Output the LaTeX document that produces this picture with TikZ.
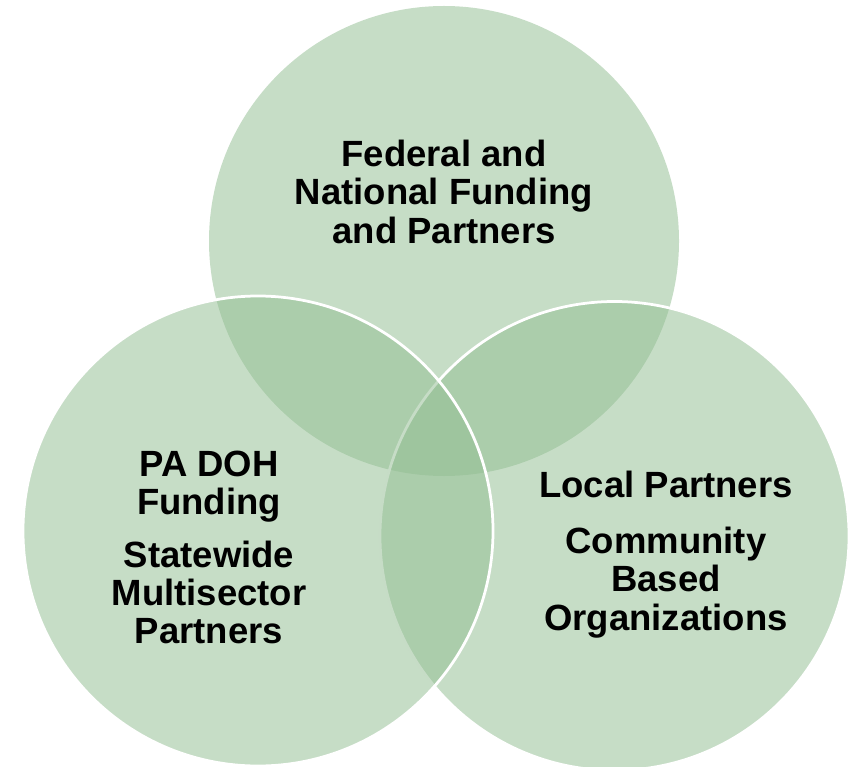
\documentclass[tikz,border=0pt]{standalone}
\usepackage{fontspec}
\setmainfont{Liberation Sans}
\definecolor{venngreen}{RGB}{147,190,147}
\tikzset{
  venncircle/.style={fill=venngreen, fill opacity=0.526},
  vennline/.style={draw=white, line width=2.75pt},
  vennlabel/.style={anchor=base, inner sep=0pt, text=black,
    font=\bfseries\fontsize{36.5}{38.5}\selectfont}
}
\begin{document}
\begin{tikzpicture}[x=1pt,y=-1pt]
\useasboundingbox (0,0) rectangle (866,767);
% circles: top, right, left
\path[venncircle] (444,241) circle[radius=235];
\path[venncircle] (614.5,536) circle[radius=234.5];
\path[vennline] (614.5,536) circle[radius=234.5];
\path[venncircle] (258,531) circle[radius=235];
\path[vennline] (258,531) circle[radius=235];
% top labels
\node[vennlabel] (t1) at (444,167) {Federal and};
\node[vennlabel] (t2) at (444,205) {National Funding};
\node[vennlabel] (t3) at (444,243) {and Partners};
% left labels
\node[vennlabel] (l1) at (209,476) {PA DOH};
\node[vennlabel] (l2) at (209,514) {Funding};
\node[vennlabel] (l3) at (209,567.5) {Statewide};
\node[vennlabel] (l4) at (209,605.5) {Multisector};
\node[vennlabel] (l5) at (209,643.5) {Partners};
% right labels
\node[vennlabel] (r1) at (666,497) {Local Partners};
\node[vennlabel] (r2) at (666,553) {Community};
\node[vennlabel] (r3) at (666,591.5) {Based};
\node[vennlabel] (r4) at (666,630) {Organizations};
\end{tikzpicture}
\end{document}
